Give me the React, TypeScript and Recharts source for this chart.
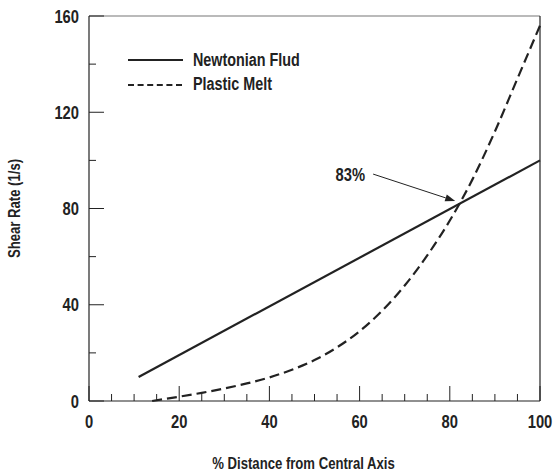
import { LineChart, Line, XAxis, YAxis, Legend, ReferenceLine, Label } from 'recharts'

// % distance from central axis vs shear rate (1/s)
const newtonianX = [11, 100]
const newtonianY = [10, 100]

const plasticX = [14, 20, 25, 30, 35, 40, 45, 50, 55, 60, 65, 70, 75, 80, 85, 90, 95, 100]
const plasticY = [0, 1.8, 3.4, 5.2, 7.3, 9.8, 13, 17, 22.3, 29, 37.5, 48, 60.5, 75, 92, 112, 134, 156]

const xTicks = [0, 5, 10, 15, 20, 25, 30, 35, 40, 45, 50, 55, 60, 65, 70, 75, 80, 85, 90, 95, 100]
const yTicks = [0, 20, 40, 60, 80, 100, 120, 140, 160]

const seriesNames = ['Newtonian Flud', 'Plastic Melt']
const annotation = { text: '83%', from: { x: 63, y: 94.3 }, to: { x: 81.2, y: 83.1 } }

const newtonianData = newtonianX.map((x, i) => ({ x, y: newtonianY[i] }))
const plasticData = plasticX.map((x, i) => ({ x, y: plasticY[i] }))

const FONT = "'Liberation Sans', Arial, sans-serif"
const INK = '#222'
const SQUEEZE = 0.82 // condensed look

// bold text squeezed horizontally around its anchor point
function Narrow({ x, y, anchor = 'middle', size, rotate = 0, children }: any) {
  return (
    <text
      transform={`translate(${x},${y}) rotate(${rotate}) scale(${SQUEEZE},1)`}
      textAnchor={anchor}
      fontFamily={FONT}
      fontWeight="bold"
      fontSize={size}
      fill={INK}
    >
      {children}
    </text>
  )
}

function XTick({ x, y, payload }: any) {
  const major = payload.value % 20 === 0
  return (
    <g>
      <line x1={x} y1={y} x2={x} y2={y - (major ? 15 : 7)} stroke={INK} strokeWidth={1} />
      {major && <Narrow x={x} y={y + 27} size={18}>{payload.value}</Narrow>}
    </g>
  )
}

function YTick({ x, y, payload }: any) {
  const major = payload.value % 40 === 0
  return (
    <g>
      <line x1={x} y1={y} x2={x + (major ? 15 : 7)} y2={y} stroke={INK} strokeWidth={1} />
      {major && <Narrow x={x - 10} y={y + 6.5} anchor="end" size={18}>{payload.value}</Narrow>}
    </g>
  )
}

function renderLegend() {
  return (
    <div style={{ fontFamily: FONT, fontWeight: 'bold', fontSize: 17.5, color: INK }}>
      {seriesNames.map((name, i) => (
        <div key={name} style={{ display: 'flex', alignItems: 'center', height: 24.5, whiteSpace: 'nowrap' }}>
          <svg width={55} height={4} style={{ marginRight: 10 }}>
            <line x1={0} y1={2} x2={55} y2={2} stroke={INK} strokeWidth={2} strokeDasharray={i === 1 ? '6 3.6' : undefined} />
          </svg>
          <span style={{ display: 'inline-block', transform: `scaleX(${SQUEEZE})`, transformOrigin: 'left center' }}>{name}</span>
        </div>
      ))}
    </div>
  )
}

function ArrowShape(props: any) {
  const { x1, y1, x2, y2 } = props
  const a = Math.atan2(y2 - y1, x2 - x1)
  const len = 10
  const w = 3.5
  const bx = x2 - len * Math.cos(a)
  const by = y2 - len * Math.sin(a)
  const px = -Math.sin(a) * w
  const py = Math.cos(a) * w
  return (
    <g>
      <line x1={x1} y1={y1} x2={bx} y2={by} stroke={INK} strokeWidth={1} />
      <polygon points={`${x2},${y2} ${bx + px},${by + py} ${bx - px},${by - py}`} fill={INK} />
      <Narrow x={x1 - 8} y={y1 + 6.5} anchor="end" size={18}>{annotation.text}</Narrow>
    </g>
  )
}

export default function App() {
  return (
    <div style={{ position: 'absolute', left: 0, top: 0, background: '#fff' }}>
      <LineChart width={555} height={473} margin={{ top: 16, right: 15, left: 0, bottom: 0 }}>
        <XAxis
          dataKey="x"
          type="number"
          domain={[0, 100]}
          ticks={xTicks}
          interval={0}
          height={72}
          tickSize={0}
          tickMargin={0}
          tickLine={false}
          tick={<XTick />}
          axisLine={{ stroke: INK, strokeWidth: 1.2 }}
        >
          <Label
            content={({ viewBox }: any) => (
              <Narrow x={viewBox.x + viewBox.width / 2 - 11} y={viewBox.y + 68} size={16}>
                % Distance from Central Axis
              </Narrow>
            )}
          />
        </XAxis>
        <YAxis
          type="number"
          domain={[0, 160]}
          ticks={yTicks}
          interval={0}
          width={89}
          tickSize={0}
          tickMargin={0}
          tickLine={false}
          tick={<YTick />}
          axisLine={{ stroke: INK, strokeWidth: 1.2 }}
        >
          <Label
            content={({ viewBox }: any) => (
              <Narrow x={20} y={viewBox.y + viewBox.height / 2} rotate={-90} size={16}>
                Shear Rate (1/s)
              </Narrow>
            )}
          />
        </YAxis>
        <ReferenceLine y={160} stroke="#777" strokeWidth={1.2} />
        <ReferenceLine x={100} stroke={INK} strokeWidth={1.2} />
        <Line
          data={newtonianData}
          dataKey="y"
          name={seriesNames[0]}
          type="linear"
          stroke={INK}
          strokeWidth={2.2}
          dot={false}
          isAnimationActive={false}
        />
        <Line
          data={plasticData}
          dataKey="y"
          name={seriesNames[1]}
          type="monotone"
          stroke={INK}
          strokeWidth={2.2}
          strokeDasharray="10 5"
          dot={false}
          isAnimationActive={false}
        />
        <ReferenceLine segment={[annotation.from, annotation.to]} shape={<ArrowShape />} />
        <Legend
          layout="vertical"
          verticalAlign="middle"
          align="center"
          wrapperStyle={{ top: 48, left: 128, width: 'auto' }}
          content={renderLegend}
        />
      </LineChart>
    </div>
  )
}
